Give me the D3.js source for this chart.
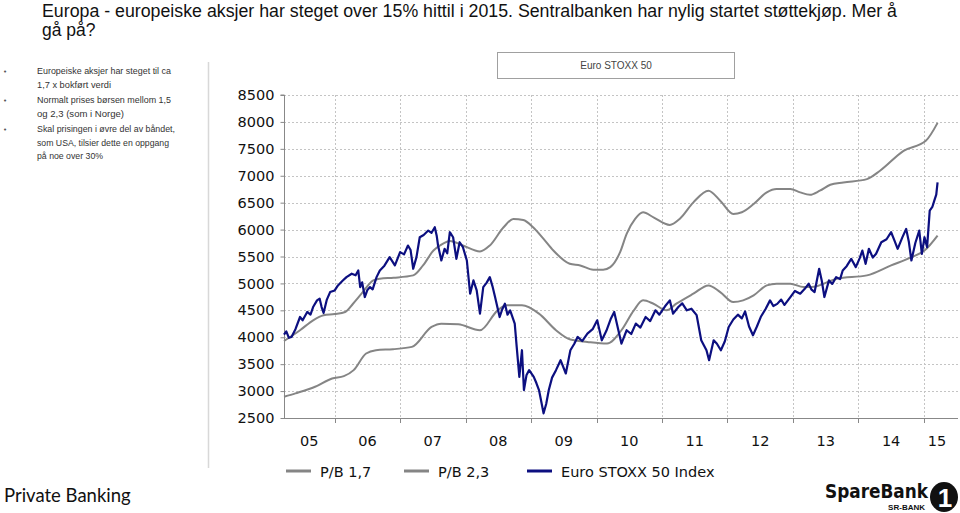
<!DOCTYPE html>
<html>
<head>
<meta charset="utf-8">
<script src="https://cdn.jsdelivr.net/npm/d3@7"></script>
<style>
body { margin: 0; background: #fff; }
svg { display: block; font-family: "DejaVu Sans", Verdana, sans-serif; }
</style>
</head>
<body>
<div id="chart"></div>
<script>
// ---- data ----
const titleLines = [
    "Europa - europeiske aksjer har steget over 15% hittil i 2015. Sentralbanken har nylig startet støttekjøp. Mer å",
    "gå på?"
];
const bulletLines = [
    ["Europeiske aksjer har steget til ca", "1,7 x bokført verdi"],
    ["Normalt prises børsen mellom 1,5", "og 2,3 (som i Norge)"],
    ["Skal prisingen i øvre del av båndet,", "som USA, tilsier dette en oppgang", "på noe over 30%"]
];
const boxTitle = "Euro STOXX 50";
const yTicks = [2500, 3000, 3500, 4000, 4500, 5000, 5500, 6000, 6500, 7000, 7500, 8000, 8500];
const yearLabels = ["05", "06", "07", "08", "09", "10", "11", "12", "13", "14", "15"];
const seriesNames = ["P/B 1,7", "P/B 2,3", "Euro STOXX 50 Index"];

// [decimal year, value]
const pbLow = [
    [2005.225, 2894], [2005.40, 2957], [2005.70, 3080], [2005.96, 3235], [2006.14, 3278],
    [2006.29, 3389], [2006.48, 3698], [2006.63, 3759], [2006.89, 3778], [2007.18, 3821],
    [2007.48, 4191], [2007.63, 4253], [2007.89, 4240], [2008.22, 4130], [2008.49, 4500],
    [2008.63, 4593], [2008.86, 4593], [2009.12, 4438], [2009.38, 4130], [2009.60, 3957],
    [2009.86, 3913], [2010.16, 3882], [2010.38, 4130], [2010.57, 4500], [2010.71, 4685],
    [2010.87, 4623], [2011.07, 4500], [2011.22, 4623], [2011.48, 4809], [2011.71, 4963],
    [2011.89, 4839], [2012.09, 4654], [2012.24, 4685], [2012.40, 4778], [2012.60, 4963],
    [2012.75, 4994], [2012.96, 4994], [2013.16, 4932], [2013.28, 4932], [2013.67, 5087],
    [2014.13, 5149], [2014.50, 5334], [2014.81, 5488], [2015.01, 5611], [2015.21, 5889]
];
const pbHigh = [
    [2005.225, 3930], [2005.47, 4130], [2005.67, 4315], [2005.83, 4407], [2006.00, 4430],
    [2006.16, 4469], [2006.28, 4623], [2006.41, 4809], [2006.59, 5056], [2006.69, 5087],
    [2006.90, 5105], [2007.20, 5149], [2007.35, 5334], [2007.51, 5611], [2007.61, 5704],
    [2007.76, 5790], [2007.96, 5704], [2008.22, 5593], [2008.37, 5704], [2008.58, 6043],
    [2008.73, 6198], [2008.88, 6179], [2009.03, 6043], [2009.19, 5827], [2009.34, 5611],
    [2009.59, 5365], [2009.75, 5334], [2009.95, 5254], [2010.10, 5254], [2010.21, 5303],
    [2010.36, 5581], [2010.46, 5920], [2010.59, 6198], [2010.71, 6321], [2010.87, 6228],
    [2011.12, 6087], [2011.27, 6198], [2011.48, 6506], [2011.71, 6722], [2011.89, 6537],
    [2012.09, 6290], [2012.22, 6321], [2012.40, 6475], [2012.60, 6691], [2012.75, 6753],
    [2012.96, 6753], [2013.11, 6691], [2013.26, 6648], [2013.41, 6722], [2013.57, 6833],
    [2013.77, 6876], [2014.13, 6938], [2014.33, 7093], [2014.69, 7463], [2015.03, 7648],
    [2015.21, 7982]
];
const stoxx = [
    [2005.225, 4050], [2005.26, 4110], [2005.30, 3990], [2005.34, 4005], [2005.40, 4150],
    [2005.47, 4376], [2005.51, 4315], [2005.58, 4470], [2005.63, 4420], [2005.67, 4561],
    [2005.73, 4685], [2005.77, 4717], [2005.80, 4560], [2005.83, 4450], [2005.88, 4700],
    [2005.93, 4839], [2006.00, 4870], [2006.05, 4963], [2006.12, 5050], [2006.18, 5117],
    [2006.26, 5180], [2006.32, 5150], [2006.36, 5241], [2006.39, 4932], [2006.42, 5020],
    [2006.46, 4747], [2006.50, 4880], [2006.54, 4932], [2006.58, 4890], [2006.64, 5117],
    [2006.69, 5241], [2006.76, 5330], [2006.84, 5488], [2006.92, 5334], [2007.00, 5581],
    [2007.06, 5540], [2007.12, 5704], [2007.16, 5620], [2007.20, 5272], [2007.25, 5488],
    [2007.30, 5858], [2007.36, 5900], [2007.43, 5982], [2007.48, 5940], [2007.53, 6043],
    [2007.56, 5880], [2007.58, 5704], [2007.63, 5426], [2007.68, 5643], [2007.72, 5560],
    [2007.76, 5951], [2007.81, 5858], [2007.86, 5457], [2007.91, 5765], [2007.96, 5673],
    [2008.02, 5426], [2008.07, 4809], [2008.12, 5056], [2008.17, 4870], [2008.22, 4438],
    [2008.27, 4932], [2008.32, 5010], [2008.37, 5117], [2008.41, 4950], [2008.45, 4747],
    [2008.52, 4376], [2008.56, 4520], [2008.60, 4623], [2008.64, 4420], [2008.68, 4500],
    [2008.75, 4253], [2008.78, 3821], [2008.82, 3265], [2008.86, 3759], [2008.89, 3019],
    [2008.93, 3300], [2008.97, 3389], [2009.04, 3265], [2009.08, 3150], [2009.12, 3019],
    [2009.19, 2587], [2009.23, 2760], [2009.27, 3019], [2009.32, 3250], [2009.38, 3389],
    [2009.45, 3574], [2009.53, 3327], [2009.60, 3759], [2009.66, 3880], [2009.71, 4006],
    [2009.78, 3930], [2009.86, 4068], [2009.94, 4150], [2010.01, 4315], [2010.08, 3944],
    [2010.15, 4120], [2010.22, 4350], [2010.27, 4469], [2010.33, 4150], [2010.38, 3882],
    [2010.46, 4130], [2010.53, 4060], [2010.60, 4253], [2010.67, 4180], [2010.75, 4376],
    [2010.82, 4300], [2010.90, 4500], [2010.96, 4420], [2011.05, 4580], [2011.12, 4685],
    [2011.17, 4438], [2011.25, 4561], [2011.31, 4630], [2011.38, 4500], [2011.45, 4530],
    [2011.53, 4410], [2011.60, 3944], [2011.64, 3850], [2011.68, 3759], [2011.72, 3574],
    [2011.79, 3944], [2011.84, 3880], [2011.90, 3759], [2011.96, 3920], [2012.02, 4191],
    [2012.09, 4330], [2012.16, 4420], [2012.22, 4350], [2012.27, 4480], [2012.33, 4200],
    [2012.39, 4037], [2012.45, 4200], [2012.51, 4380], [2012.58, 4520], [2012.65, 4685],
    [2012.70, 4580], [2012.76, 4620], [2012.82, 4700], [2012.87, 4600], [2012.96, 4747],
    [2013.03, 4860], [2013.11, 4809], [2013.18, 4900], [2013.24, 4994], [2013.28, 4890],
    [2013.33, 4839], [2013.40, 5272], [2013.44, 5050], [2013.48, 4747], [2013.55, 5056],
    [2013.60, 4990], [2013.66, 5117], [2013.72, 5080], [2013.76, 5241], [2013.82, 5320],
    [2013.89, 5457], [2013.96, 5303], [2014.02, 5470], [2014.06, 5611], [2014.11, 5364],
    [2014.16, 5643], [2014.22, 5480], [2014.27, 5550], [2014.35, 5765], [2014.43, 5820],
    [2014.50, 5951], [2014.55, 5800], [2014.60, 5643], [2014.67, 5850], [2014.73, 6013],
    [2014.77, 5780], [2014.81, 5426], [2014.87, 5750], [2014.93, 5982], [2014.97, 5550],
    [2015.01, 5858], [2015.05, 5673], [2015.09, 6352], [2015.13, 6420], [2015.16, 6537],
    [2015.19, 6650], [2015.21, 6876]
];

const GRAY = "#858585";
const NAVY = "#0c0f80";
const GRID = "#c4c4c4";

function yearToDate(t){
    var yr = Math.floor(t),
        a = new Date(yr, 0, 1),
        b = new Date(yr + 1, 0, 1);
    return new Date(+a + (t - yr) * (b - a));
}

var svg = d3.select("#chart").append("svg")
    .attr("width", 960)
    .attr("height", 513);

// ---- title ----
svg.selectAll(".title")
    .data(titleLines)
    .enter().append("text")
    .attr("class", "title")
    .attr("x", 42)
    .attr("y", (d, i) => 17 + i * 19)
    .attr("font-family", "'Liberation Sans', Arial, sans-serif")
    .attr("font-size", 17.5)
    .attr("fill", "#111")
    .attr("textLength", (d, i) => i == 0 ? 855 : null)
    .attr("lengthAdjust", "spacingAndGlyphs")
    .text(d => d);

// ---- left text panel ----
svg.append("line")
    .attr("x1", 208.5).attr("x2", 208.5)
    .attr("y1", 62).attr("y2", 468)
    .attr("stroke", "#d8d8d8").attr("stroke-width", 1.5);

var lineWidths = [[134, 74], [134, 87], [138, 132, 66]];
var by = 74;
bulletLines.forEach(function(group, gi){
    svg.append("text")
        .attr("x", 3).attr("y", by)
        .attr("font-size", 7).attr("fill", "#555")
        .text("•");
    group.forEach(function(line, li){
        svg.append("text")
            .attr("x", 37).attr("y", by)
            .attr("font-family", "'Liberation Sans', Arial, sans-serif")
            .attr("font-size", 8.8)
            .attr("fill", "#333")
            .attr("textLength", lineWidths[gi][li])
            .attr("lengthAdjust", "spacingAndGlyphs")
            .text(line);
        by += 13.5;
    });
    by += 2;
});

// ---- chart title box ----
svg.append("rect")
    .attr("x", 497.5).attr("y", 52.5)
    .attr("width", 237).attr("height", 26)
    .attr("fill", "#fff")
    .attr("stroke", "#a0a0a0");
svg.append("text")
    .attr("x", 616).attr("y", 69)
    .attr("text-anchor", "middle")
    .attr("font-family", "'Liberation Sans', Arial, sans-serif")
    .attr("font-size", 10)
    .attr("fill", "#444")
    .text(boxTitle);

// ---- scales ----
var x = d3.scaleTime()
    .domain([yearToDate(2005.225), yearToDate(2015.40)])
    .range([284, 950]);
var y = d3.scaleLinear()
    .domain([2500, 8500])
    .range([418, 95]);
var plotRight = 958;

var yearStarts = d3.range(2006, 2016).map(yr => new Date(yr, 0, 1));

// grid
svg.append("g").selectAll("line")
    .data(yTicks.filter(d => d > 2500))
    .enter().append("line")
    .attr("x1", 284).attr("x2", plotRight)
    .attr("y1", d => Math.round(y(d)) + .5).attr("y2", d => Math.round(y(d)) + .5)
    .attr("stroke", GRID).attr("stroke-dasharray", "2,2");
svg.append("g").selectAll("line")
    .data(yearStarts)
    .enter().append("line")
    .attr("x1", d => Math.round(x(d)) + .5).attr("x2", d => Math.round(x(d)) + .5)
    .attr("y1", y(8500)).attr("y2", y(2500))
    .attr("stroke", GRID).attr("stroke-dasharray", "2,2");

// y axis
var yAxis = d3.axisLeft(y).tickValues(yTicks).tickSize(4).tickPadding(6).tickFormat(d3.format("d"));
svg.append("g")
    .attr("transform", "translate(284.5,0)")
    .call(yAxis)
    .call(g => g.select(".domain").attr("stroke", "#888").attr("d", `M-4,${y(8500)}H0V${y(2500)}`))
    .call(g => g.selectAll(".tick line").attr("stroke", "#888"))
    .call(g => g.selectAll(".tick text")
        .attr("font-family", "'DejaVu Sans', Verdana, sans-serif")
        .attr("font-size", 14.5)
        .attr("fill", "#111"));

// x axis
svg.append("line")
    .attr("x1", 284).attr("x2", plotRight)
    .attr("y1", y(2500) + .5).attr("y2", y(2500) + .5)
    .attr("stroke", "#888");
svg.append("g").selectAll("line")
    .data(yearStarts)
    .enter().append("line")
    .attr("x1", d => Math.round(x(d)) + .5).attr("x2", d => Math.round(x(d)) + .5)
    .attr("y1", y(2500)).attr("y2", y(2500) + 5)
    .attr("stroke", "#888");

var dom = x.domain();
svg.append("g").selectAll("text")
    .data(yearLabels)
    .enter().append("text")
    .attr("x", function(d, i){
        var a = new Date(2005 + i, 0, 1), b = new Date(2006 + i, 0, 1);
        a = a < dom[0] ? dom[0] : a;
        b = b > dom[1] ? dom[1] : b;
        return (x(a) + x(b)) / 2;
    })
    .attr("y", 446)
    .attr("text-anchor", "middle")
    .attr("font-size", 14.5)
    .attr("fill", "#111")
    .text(d => d);

// ---- lines ----
var smooth = d3.line()
    .x(d => x(yearToDate(d[0])))
    .y(d => y(d[1]))
    .curve(d3.curveMonotoneX);
var straight = d3.line()
    .x(d => x(yearToDate(d[0])))
    .y(d => y(d[1]));

svg.append("path").datum(pbLow)
    .attr("d", smooth)
    .attr("fill", "none").attr("stroke", GRAY).attr("stroke-width", 2);
svg.append("path").datum(pbHigh)
    .attr("d", smooth)
    .attr("fill", "none").attr("stroke", GRAY).attr("stroke-width", 2);
svg.append("path").datum(stoxx)
    .attr("d", straight)
    .attr("fill", "none").attr("stroke", NAVY).attr("stroke-width", 2.2)
    .attr("stroke-linejoin", "round");

// ---- legend ----
var legendX = [286, 404, 527];
var legendColors = [GRAY, GRAY, NAVY];
var lg = svg.append("g").selectAll("g")
    .data(seriesNames)
    .enter().append("g")
    .attr("transform", (d, i) => `translate(${legendX[i]},471)`);
lg.append("line")
    .attr("x1", 0).attr("x2", 25)
    .attr("stroke", (d, i) => legendColors[i])
    .attr("stroke-width", 3);
lg.append("text")
    .attr("x", 34).attr("y", 5.5)
    .attr("font-size", 14.5)
    .attr("fill", "#111")
    .text(d => d);

// ---- footer ----
svg.append("text")
    .attr("x", 4).attr("y", 502)
    .attr("font-family", "Lato, 'Open Sans', sans-serif")
    .attr("font-size", 18.5)
    .attr("fill", "#111")
    .text("Private Banking");

var logo = svg.append("g").attr("transform", "translate(825,0)");
logo.append("text")
    .attr("x", 0).attr("y", 498)
    .attr("font-family", "'Liberation Sans Narrow', 'DejaVu Sans Condensed', Arial, sans-serif")
    .attr("font-weight", "bold")
    .attr("font-size", 19)
    .attr("fill", "#111")
    .attr("textLength", 103)
    .attr("lengthAdjust", "spacingAndGlyphs")
    .text("SpareBank");
logo.append("text")
    .attr("x", 100).attr("y", 510)
    .attr("text-anchor", "end")
    .attr("font-family", "'Liberation Sans', Arial, sans-serif")
    .attr("font-weight", "bold")
    .attr("font-size", 8)
    .attr("fill", "#111")
    .text("SR-BANK");
logo.append("ellipse")
    .attr("cx", 119).attr("cy", 497)
    .attr("rx", 14).attr("ry", 15)
    .attr("fill", "#111");
logo.append("text")
    .attr("x", 120).attr("y", 507)
    .attr("text-anchor", "middle")
    .attr("font-family", "'Liberation Sans', Arial, sans-serif")
    .attr("font-weight", "bold")
    .attr("font-size", 26)
    .attr("fill", "#fff")
    .text("1");
</script>
</body>
</html>
